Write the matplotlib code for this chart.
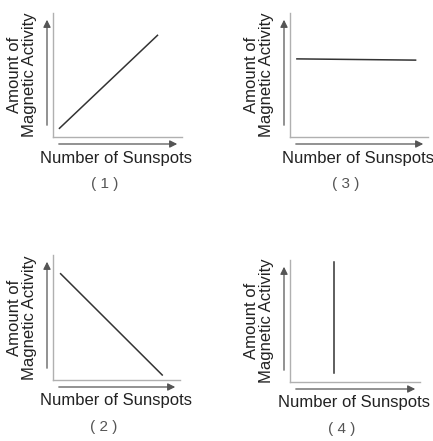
import matplotlib.pyplot as plt

plt.rcParams['font.family'] = ['Liberation Sans', 'DejaVu Sans']

W, H = 433, 441

# data for each small graph (x, y), axes run 0..10
labels = ["( 1 )", "( 3 )", "( 2 )", "( 4 )"]
x_line = [[0.5, 8.1], [0.5, 9.1], [0.6, 8.6], [3.4, 3.4]]
y_line = [[0.7, 8.2], [6.3, 6.2], [8.5, 0.4], [0.7, 9.8]]
xlabel = "Number of Sunspots"
ylabel = "Amount of\nMagnetic Activity"

# axes boxes in image pixels: left, top, right, bottom
boxes = [(53, 13, 182, 137), (290, 13, 428, 137),
         (53, 255, 180, 380), (290, 260, 420, 382)]

fig = plt.figure(figsize=(W / 100, H / 100), dpi=100)

for i, (l, t, r, b) in enumerate(boxes):
    w, h = r - l, b - t
    ax = fig.add_axes([l / W, 1 - b / H, w / W, h / H])
    ax.plot(x_line[i], y_line[i], color="#333333", lw=1.1)
    ax.set_xlim(0, 10)
    ax.set_ylim(0, 10)
    ax.set_xticks([])
    ax.set_yticks([])
    for s in ["top", "right"]:
        ax.spines[s].set_visible(False)
    for s in ["left", "bottom"]:
        ax.spines[s].set_color("#b0b0b0")
        ax.spines[s].set_linewidth(1.0)

    # arrows alongside the axes (axes fraction, offsets in pixels)
    arr = dict(arrowstyle="-|>", color="#555555", lw=0.9, mutation_scale=11)
    ax.annotate("", xy=(-6 / w, 1 - 4 / h), xytext=(-6 / w, 9 / h),
                xycoords="axes fraction", arrowprops=arr, annotation_clip=False)
    ax.annotate("", xy=(1 - 2 / w, -7 / h), xytext=(3 / w, -7 / h),
                xycoords="axes fraction", arrowprops=arr, annotation_clip=False)

    ax.text(0.5 - 1 / w, -21 / h, xlabel, transform=ax.transAxes,
            ha="center", va="center", fontsize=12, color="#222222")
    ax.text(0.5 - 13 / w, -47 / h, labels[i], transform=ax.transAxes,
            ha="center", va="center", fontsize=11, color="#555555")
    ax.text(-31 / w, 0.5, ylabel, transform=ax.transAxes, rotation=90,
            ha="center", va="center", fontsize=12, color="#222222",
            linespacing=0.95)

fig.savefig("out.png", dpi=100)
